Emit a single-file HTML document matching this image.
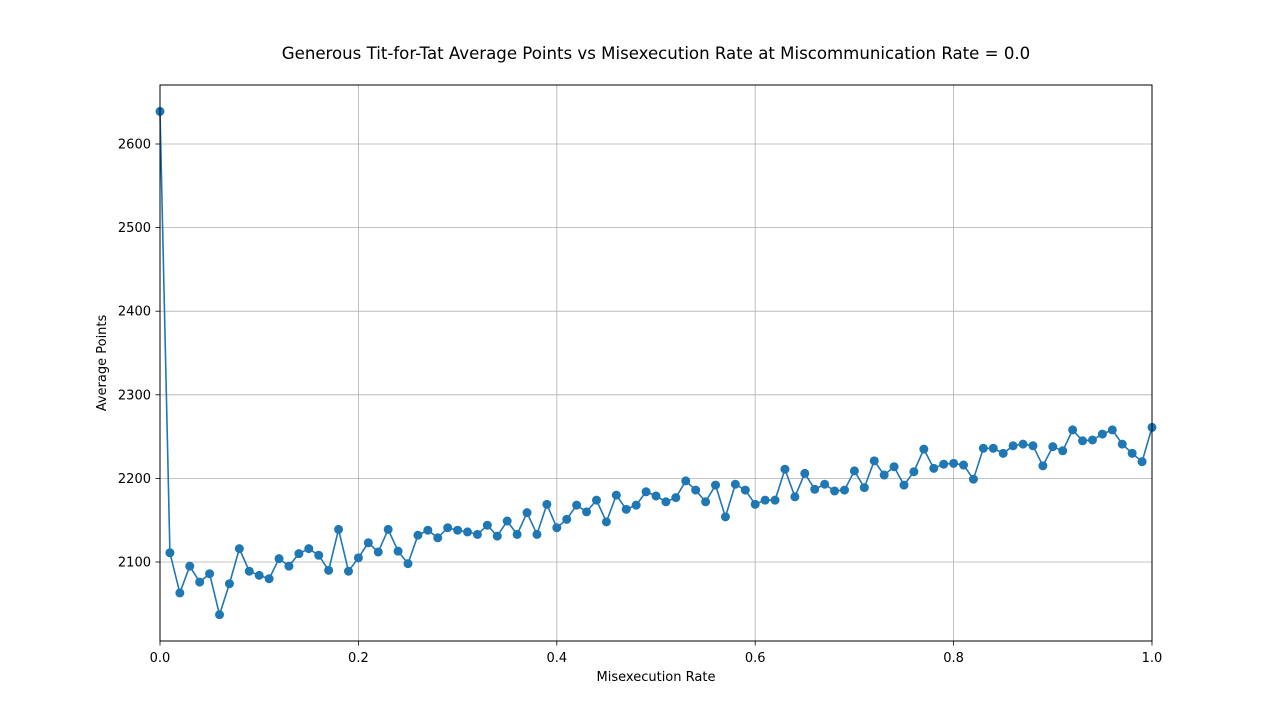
<!DOCTYPE html>
<html><head><meta charset="utf-8"><style>
html,body{margin:0;padding:0;background:#fff;}
svg{display:block;font-family:"DejaVu Sans","Liberation Sans",sans-serif;}
</style></head><body>
<svg id="chart" width="1280" height="719">
<rect width="1280" height="719" fill="#fff"/>
<text x="656" y="59" text-anchor="middle" font-size="16.6">Generous Tit-for-Tat Average Points vs Misexecution Rate at Miscommunication Rate = 0.0</text>
<g id="grid"></g>
<g id="xticks"></g>
<g id="yticks"></g>
<g id="series"></g>
<rect x="160" y="85" width="992" height="556" fill="none" stroke="#000" stroke-width="1"/>
<text x="656" y="681" text-anchor="middle" font-size="13">Misexecution Rate</text>
<text transform="translate(106,363) rotate(-90)" text-anchor="middle" font-size="13">Average Points</text>
</svg>
<script>
const xTickValues=[0,0.2,0.4,0.6,0.8,1.0];
const xTickLabels=["0.0","0.2","0.4","0.6","0.8","1.0"];
const yTickValues=[2100,2200,2300,2400,2500,2600];
const yTickLabels=["2100","2200","2300","2400","2500","2600"];
const rates=[];for(let i=0;i<=100;i++)rates.push(i/100);
const points=[2639,2111,2063,2095,2076,2086,2037,2074,2116,2089,2084,2080,2104,2095,2110,2116,2108,2090,2139,2089,2105,2123,2112,2139,2113,2098,2132,2138,2129,2141,2138,2136,2133,2144,2131,2149,2133,2159,2133,2169,2141,2151,2168,2160,2174,2148,2180,2163,2168,2184,2179,2172,2177,2197,2186,2172,2192,2154,2193,2186,2169,2174,2174,2211,2178,2206,2187,2193,2185,2186,2209,2189,2221,2204,2214,2192,2208,2235,2212,2217,2218,2216,2199,2236,2236,2230,2239,2241,2239,2215,2238,2233,2258,2245,2246,2253,2258,2241,2230,2220,2261];
const NS="http://www.w3.org/2000/svg";
function xs(v){return 160+v*992;}
function ys(v){return 562-(v-2100)*0.836;}
function mk(t,a,p){const e=document.createElementNS(NS,t);for(const k in a)e.setAttribute(k,a[k]);p.appendChild(e);return e;}
const grid=document.getElementById('grid'),xt=document.getElementById('xticks'),yt=document.getElementById('yticks'),ser=document.getElementById('series');
xTickValues.forEach((v,i)=>{const x=xs(v);
const g=mk('line',{x1:x,x2:x,y1:85,y2:641,stroke:'#b0b0b0','stroke-width':0.8},grid);


mk('line',{x1:x,x2:x,y1:641,y2:645.5,stroke:'#000','stroke-width':0.8},xt);
const t=mk('text',{x:x,y:662,'text-anchor':'middle','font-size':13},xt);t.textContent=xTickLabels[i];

});
yTickValues.forEach((v,i)=>{const y=ys(v);
const g=mk('line',{x1:160,x2:1152,y1:y,y2:y,stroke:'#b0b0b0','stroke-width':0.8},grid);


mk('line',{x1:155.5,x2:160,y1:y,y2:y,stroke:'#000','stroke-width':0.8},yt);
const t=mk('text',{x:151,y:y+4.5,'text-anchor':'end','font-size':13},yt);t.textContent=yTickLabels[i];

});
const d=points.map((p,i)=>(i?'L':'M')+xs(rates[i]).toFixed(2)+','+ys(p).toFixed(2)).join('');
const path=mk('path',{d:d,fill:'none',stroke:'#1f77b4','stroke-width':1.6},ser);


points.forEach((p,i)=>{const c=mk('circle',{cx:xs(rates[i]),cy:ys(p),r:4.5,fill:'#1f77b4'},ser);

});
</script>
</body></html>
